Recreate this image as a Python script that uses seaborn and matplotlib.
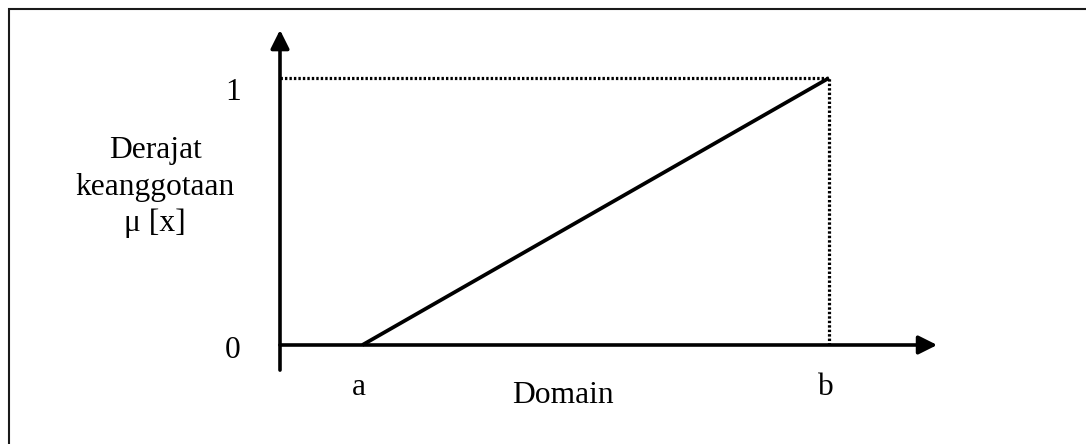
import matplotlib
matplotlib.use("Agg")
import matplotlib.pyplot as plt
import matplotlib.patches as mpatches
import seaborn as sns
import numpy as np

sns.set_style("white")
plt.rcParams['font.family'] = ['Liberation Serif', 'DejaVu Serif']
plt.rcParams['text.color'] = 'black'

# data: fungsi keanggotaan linear naik
domain_pts = [1.5, 10.0]      # a, b
membership = [0.0, 1.0]       # mu(a), mu(b)
point_labels = ["a", "b"]
level_labels = ["0", "1"]
ylabel_lines = ["Derajat", "keanggotaan", "\u03bc [x]"]
xlabel = "Domain"

W, H = 1086, 444
FS = 22.7

fig = plt.figure(figsize=(W / 100, H / 100), dpi=100)
ax = fig.add_axes([0, 0, 1, 1])
# skala: origin di piksel (280, 345)
ax.set_xlim(-5.100, 14.681)
ax.set_ylim(-0.3708, 1.2921)
ax.set_axis_off()

# bingkai (hanya tepi atas dan kiri terlihat)
fig.add_artist(mpatches.Rectangle((9 / W, -0.1), 1.2, 435 / H + 0.1,
                                  transform=fig.transFigure, fill=False,
                                  edgecolor='#1a1a1a', lw=1.5))

# sumbu dengan panah
arr = dict(arrowstyle='-|>,head_length=0.4,head_width=0.2', color='black',
           lw=2.6, shrinkA=0, shrinkB=0, mutation_scale=28)
ax.annotate('', xy=(0, 1.18), xytext=(0, -0.094), arrowprops=arr)
ax.annotate('', xy=(11.97, 0), xytext=(0, 0), arrowprops=arr)

# garis bantu titik-titik
dots = (0, (0.75, 0.65))
ax.plot([0, domain_pts[-1]], [membership[-1]] * 2, color='black', lw=2.3,
        linestyle=dots)
ax.plot([domain_pts[-1]] * 2, [0, membership[-1]], color='black', lw=2.3,
        linestyle=dots)

# garis keanggotaan
sns.lineplot(x=domain_pts, y=membership, ax=ax, color='black', lw=2.7,
             solid_capstyle='butt')

# label a, b
for xv, lab in zip(domain_pts, point_labels):
    ax.annotate(lab, xy=(xv, 0), xytext=(-3, -50), textcoords='offset pixels',
                ha='center', va='baseline', fontsize=FS, color='black')

# label 0, 1
for yv, lab, dy in zip(membership, level_labels, [-13, -22]):
    ax.annotate(lab, xy=(0, yv), xytext=(-47, dy), textcoords='offset pixels',
                ha='center', va='baseline', fontsize=FS, color='black')

# label sumbu
fig.text(512 / W, 1 - 403 / H, xlabel, ha='left', va='baseline',
         fontsize=FS, color='black')
for line, base in zip(ylabel_lines, [158, 195, 231]):
    fig.text(155 / W, 1 - base / H, line, ha='center', va='baseline',
             fontsize=FS, color='black')

fig.savefig("out.png", dpi=100)
